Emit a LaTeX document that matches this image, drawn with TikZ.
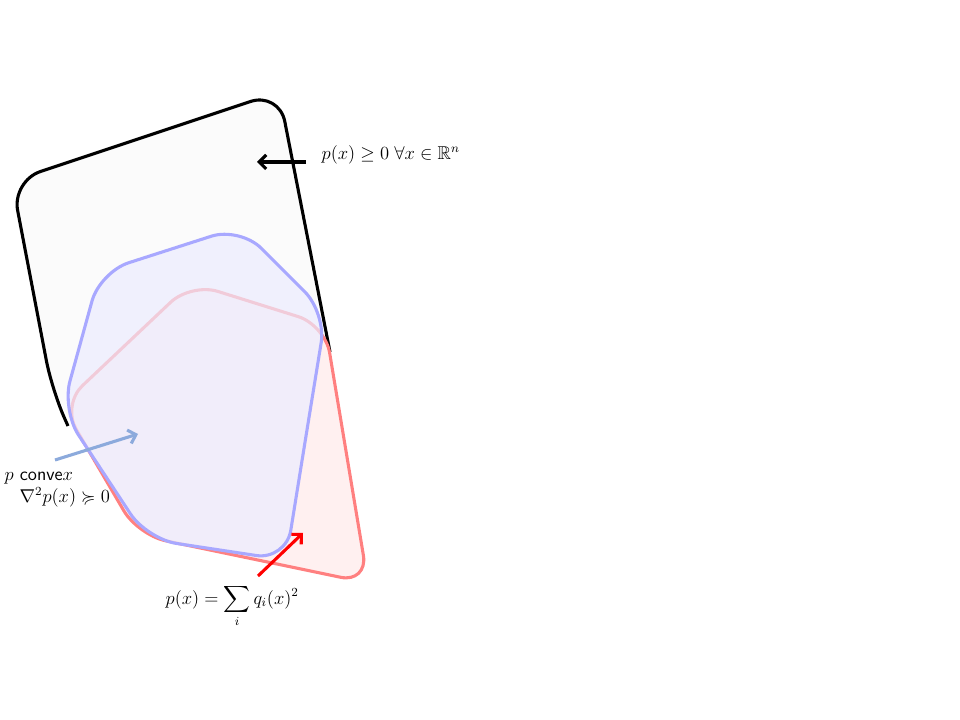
\documentclass[tikz,border=0pt]{standalone}
\usepackage{amsmath}
\usepackage{amssymb}
\usepackage{graphicx}
\usepackage{tikz}
\usetikzlibrary{arrows.meta}

\definecolor{nonneg}{RGB}{251,251,251}
\definecolor{sosfill}{RGB}{255,240,240}
\definecolor{sosline}{RGB}{255,128,128}
\definecolor{cvxfill}{RGB}{236,236,255}
\definecolor{cvxline}{RGB}{168,168,255}
\definecolor{cvxarrow}{RGB}{140,170,220}
\newcommand{\labeltext}[1]{\scalebox{1.1}{\large #1}}

\begin{document}
\begin{tikzpicture}[x=0.025cm,y=-0.025cm]
\useasboundingbox (0,0) rectangle (960,720);
% the three sets
\fill [nonneg, rounded corners=0.75cm] (146,136) -- (279,92) -- (368,583) -- (140,536) -- (52,390) -- (12,181) -- cycle;
\draw [line width=2.2pt, rounded corners=0.75cm] (68,426) -- (52,390) -- (12,181) -- (279,92) -- (330,352);
\filldraw [fill=sosfill, draw=sosline, line width=2.2pt, rounded corners=0.7cm]
    (253,559) -- (138,535) -- (62,405) -- (191,283) -- (325,325) -- (368,583) -- cycle;
\filldraw [fill=cvxfill, fill opacity=0.7, draw=cvxline, line width=2.2pt, rounded corners=0.75cm]
    (306,436) -- (286,560) -- (147,539) -- (62,410) -- (100,272) -- (240,227) -- (326,313) -- cycle;
\begin{scope}[every node/.style={inner sep=1pt}]
    \node [anchor=west] (nonneglabel) at (320,155) {\labeltext{$p(x) \geq 0 \; \forall x \in \mathbb{R}^n$}};
    \node [anchor=west] (cvxlabel) at (3,478) {\labeltext{$p$ \textsf{conve}$x$}};
    \node [anchor=west] (hesslabel) at (18,497) {\labeltext{$\nabla^2 p(x) \succcurlyeq 0$}};
    \node [anchor=west] (soslabel) at (164,606) {\labeltext{$p(x) = \displaystyle\sum_i q_i(x)^2$}};
    \coordinate (nonnegtail) at (306,162);
    \coordinate (nonneghead) at (257,162);
    \coordinate (cvxtail) at (55,460);
    \coordinate (cvxhead) at (138,434);
    \coordinate (sostail) at (258,576);
    \coordinate (soshead) at (303,533);
\end{scope}
\begin{scope}[>={Straight Barb[length=5pt,width=10pt]},
              black_arrow/.style={draw=black,line width=2.2pt},
              blue_arrow/.style={draw=cvxarrow,line width=2.2pt},
              red_arrow/.style={draw=red,line width=2.2pt}]
    \path [->] (nonnegtail) edge [black_arrow] (nonneghead);
    \path [->] (cvxtail) edge [blue_arrow] (cvxhead);
    \path [->] (sostail) edge [red_arrow] (soshead);
\end{scope}
\end{tikzpicture}
\end{document}
